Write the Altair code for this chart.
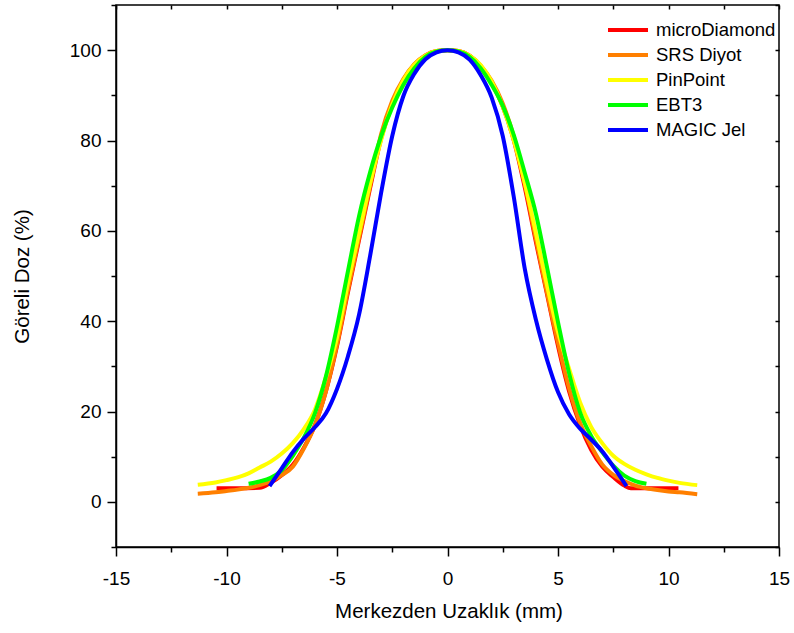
import altair as alt
import pandas as pd

series = ["microDiamond", "SRS Diyot", "PinPoint", "EBT3", "MAGIC Jel"]
colors = ["#FF0000", "#FF7F00", "#FFFF00", "#00FF00", "#0000FF"]

md_x = [-10.45, -9.5, -8.5, -8.0, -7.5, -7.0, -6.5, -6.0, -5.5, -5.0, -4.5, -4.0, -3.5, -3.0, -2.5, -2.0, -1.5, -1.0, -0.5, 0.0,
        0.5, 1.0, 1.5, 2.0, 2.5, 3.0, 3.5, 4.0, 4.5, 5.0, 5.5, 6.0, 6.5, 7.0, 7.5, 8.0, 8.3, 9.5, 10.45]
md_y = [3.0, 3.0, 3.1, 4.2, 5.9, 8.2, 12.0, 17.0, 24.5, 34.5, 46.5, 58.0, 69.5, 80.5, 88.0, 93.3, 96.8, 98.8, 99.8, 100.0,
        99.8, 98.8, 96.5, 92.8, 87.5, 80.0, 69.5, 57.5, 46.0, 34.5, 24.5, 17.0, 11.5, 7.8, 5.5, 3.6, 3.0, 3.0, 3.0]

srs_x = [-11.3, -10.5, -10.0, -9.5, -9.0, -8.5, -8.0, -7.5, -7.0, -6.5, -6.0, -5.5, -5.0, -4.5, -4.0, -3.5, -3.0, -2.5, -2.0,
         -1.5, -1.0, -0.5, 0.0, 0.5, 1.0, 1.5, 2.0, 2.5, 3.0, 3.5, 4.0, 4.5, 5.0, 5.5, 6.0, 6.5, 7.0, 7.5, 8.0, 8.5, 9.0,
         9.5, 10.0, 10.5, 11.3]
srs_y = [1.8, 2.1, 2.4, 2.7, 3.1, 3.7, 4.6, 5.9, 7.8, 11.8, 16.9, 24.5, 34.8, 47.0, 58.5, 70.0, 81.5, 88.8, 93.6,
         96.9, 98.9, 99.8, 100.0, 99.8, 98.8, 96.6, 93.2, 88.2, 80.8, 70.3, 58.2, 46.3, 35.2, 25.2, 17.5, 12.4, 8.3, 6.0,
         4.6, 3.6, 3.0, 2.6, 2.3, 2.1, 1.7]

pp_x = [-11.3, -10.5, -10.0, -9.5, -9.0, -8.5, -8.0, -7.5, -7.0, -6.5, -6.0, -5.5, -5.0, -4.5, -4.0, -3.5, -3.0, -2.5, -2.0,
        -1.5, -1.0, -0.5, 0.0, 0.5, 1.0, 1.5, 2.0, 2.5, 3.0, 3.5, 4.0, 4.5, 5.0, 5.5, 6.0, 6.5, 7.0, 7.5, 8.0, 8.5, 9.0,
        9.5, 10.0, 10.5, 11.3]
pp_y = [3.8, 4.3, 4.8, 5.4, 6.3, 7.6, 8.9, 10.7, 13.0, 16.1, 20.4, 27.6, 36.4, 48.5, 59.5, 70.5, 80.2, 88.0, 93.3,
        96.8, 98.8, 99.8, 100.0, 99.8, 98.8, 96.7, 93.0, 87.5, 80.0, 70.5, 59.5, 48.0, 37.6, 29.5, 22.0, 16.6, 13.0, 10.2,
        8.4, 7.1, 6.1, 5.3, 4.7, 4.2, 3.7]

ebt_x = [-9.0, -8.5, -8.0, -7.5, -7.0, -6.5, -6.0, -5.5, -5.0, -4.5, -4.0, -3.5, -3.0, -2.5, -2.0, -1.5, -1.0, -0.5, 0.0,
         0.5, 1.0, 1.5, 2.0, 2.5, 3.0, 3.5, 4.0, 4.5, 5.0, 5.5, 6.0, 6.5, 7.0, 7.5, 8.0, 8.5, 9.0]
ebt_y = [4.0, 4.5, 5.3, 7.0, 10.2, 14.2, 19.6, 27.8, 38.8, 51.2, 63.3, 73.0, 81.0, 87.3, 92.3, 96.0, 98.5, 99.7, 100.0,
         99.7, 98.5, 96.0, 92.3, 87.7, 81.2, 72.8, 63.8, 52.0, 39.8, 28.5, 19.8, 14.6, 11.0, 8.0, 5.8, 4.6, 4.0]

mg_x = [-8.05, -7.5, -7.0, -6.5, -6.0, -5.5, -5.0, -4.5, -4.0, -3.5, -3.0, -2.5, -2.0, -1.5, -1.0, -0.5, 0.0,
        0.5, 1.0, 1.5, 2.0, 2.5, 3.0, 3.5, 4.0, 4.5, 5.0, 5.5, 6.0, 6.5, 7.0, 7.5, 8.1]
mg_y = [3.5, 7.4, 11.0, 14.0, 16.5, 19.6, 25.0, 32.3, 41.5, 54.5, 68.5, 81.0, 89.8, 94.8, 98.0, 99.5, 100.0,
        99.5, 97.9, 94.5, 89.5, 81.0, 67.5, 51.5, 40.3, 31.5, 24.3, 19.4, 16.2, 13.8, 11.2, 7.8, 3.5]

x_major = [-15, -10, -5, 0, 5, 10, 15]
x_minor = [-12.5, -7.5, -2.5, 2.5, 7.5, 12.5]
y_major = [0, 20, 40, 60, 80, 100]
y_minor = [-10, 10, 30, 50, 70, 90, 110]

xs_all = [md_x, srs_x, pp_x, ebt_x, mg_x]
ys_all = [md_y, srs_y, pp_y, ebt_y, mg_y]
rows = []
for name, xs, ys in zip(series, xs_all, ys_all):
    for i, (a, b) in enumerate(zip(xs, ys)):
        rows.append({"series": name, "x": a, "y": b, "i": i})
df = pd.DataFrame(rows)

W, H = 663, 542
FONT = "Liberation Sans"
xscale = alt.Scale(domain=[-15, 15], nice=False, zero=False)
yscale = alt.Scale(domain=[-10, 110], nice=False, zero=False)

common = dict(grid=False, domainColor="black", tickColor="black", labelColor="black", titleColor="black",
              labelFont=FONT, titleFont=FONT, domainWidth=1.5, tickWidth=1.5)

ax_x_major = alt.Axis(orient="bottom", values=x_major, title="Merkezden Uzaklık (mm)", tickSize=9, labelPadding=13,
                      labelFontSize=19, titleFontSize=20.5, titleFontWeight="normal", labelExpr="'' + datum.value",
                      titleX=W / 2 + 1, titleY=64, titleBaseline="middle", labelFlush=False, labelOverlap=False, **common)
ax_y_major = alt.Axis(orient="left", values=y_major, title="Göreli Doz (%)", tickSize=9, labelPadding=6,
                      labelFontSize=19, titleFontSize=20.5, titleFontWeight="normal", labelExpr="'' + datum.value",
                      titleX=-94, titleY=H / 2, titleBaseline="middle", labelFlush=False, labelOverlap=False, **common)
ax_x_minor = alt.Axis(orient="bottom", values=x_minor, labels=False, tickSize=5, domain=False, title="", **common)
ax_y_minor = alt.Axis(orient="left", values=y_minor, labels=False, tickSize=5, domain=False, title="", **common)
ax_x_in = alt.Axis(orient="bottom", offset=-H, values=x_major + x_minor, labels=False, tickSize=4, domain=False,
                   title="", **common)
ax_y_in = alt.Axis(orient="left", offset=-W, values=y_major + y_minor, labels=False, tickSize=4, domain=False,
                   title="", **common)

color = alt.Color("series:N", scale=alt.Scale(domain=series, range=colors),
                  legend=alt.Legend(orient="none", legendX=500, legendY=13, title=None, symbolType="M-2,0H2",
                                    symbolSize=400, symbolStrokeWidth=4, labelFontSize=18.5, labelFont=FONT,
                                    labelColor="black", labelOffset=16, rowPadding=3))

line_layers = []
for s in series:
    line_layers.append(
        alt.Chart(df).transform_filter(alt.datum.series == s)
        .mark_line(strokeWidth=4, interpolate="monotone")
        .encode(x=alt.X("x:Q", scale=xscale, axis=ax_x_major),
                y=alt.Y("y:Q", scale=yscale, axis=ax_y_major),
                color=color, order="i:Q")
    )
lines = alt.layer(*line_layers)

minor = alt.Chart(df).mark_line(strokeOpacity=0).encode(
    x=alt.X("x:Q", scale=xscale, axis=ax_x_minor),
    y=alt.Y("y:Q", scale=yscale, axis=ax_y_minor),
    detail="series:N")
inward = alt.Chart(df).mark_line(strokeOpacity=0).encode(
    x=alt.X("x:Q", scale=xscale, axis=ax_x_in),
    y=alt.Y("y:Q", scale=yscale, axis=ax_y_in),
    detail="series:N")

chart = alt.layer(lines, minor, inward).resolve_axis(x="independent", y="independent").properties(
    width=W, height=H, autosize=alt.AutoSizeParams(type="none"),
    padding={"left": 116, "top": 5, "right": 15, "bottom": 86},
    background="white",
).configure_view(stroke="black", strokeWidth=1.5)

chart.save("out.html", embed_options={"renderer": "svg", "actions": False})
